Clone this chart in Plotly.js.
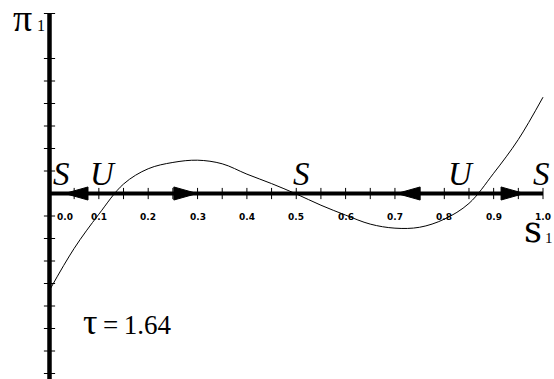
<!DOCTYPE html>
<html><head><meta charset="utf-8">
<script src="https://cdn.plot.ly/plotly-3.0.1.min.js"></script>
<style>html,body{margin:0;padding:0;background:#fff;} #chart{width:554px;height:379px;}</style>
</head><body><div id="chart"></div>
<script>
// ---- data ----
const s1Values  = [0.00, 0.05, 0.10, 0.15, 0.20, 0.25, 0.30, 0.35, 0.40, 0.45, 0.50,
                   0.55, 0.60, 0.65, 0.70, 0.75, 0.80, 0.85, 0.90, 0.95, 1.00];
const pi1Values = [-0.215, -0.122, -0.046, 0.021, 0.055, 0.069, 0.074, 0.066, 0.043, 0.022, -0.001,
                   -0.026, -0.048, -0.068, -0.077, -0.075, -0.057, -0.022, 0.045, 0.120, 0.214];
const xTickValues = [0.05,0.10,0.15,0.20,0.25,0.30,0.35,0.40,0.45,0.50,0.55,0.60,0.65,0.70,0.75,0.80,0.85,0.90,0.95,1.00];
const xTickLabelValues = [0.0,0.1,0.2,0.3,0.4,0.5,0.6,0.7,0.8,0.9,1.0];
const xTickLabels = ['0.0','0.1','0.2','0.3','0.4','0.5','0.6','0.7','0.8','0.9','1.0'];
const yTickValues = [0.40,0.30,0.25,0.20,0.15,0.10,0.05,-0.05,-0.10,-0.15,-0.20,-0.25,-0.30,-0.35,-0.40];
const yAxisTop = 0.40;
const fixedPoints = [0.0, 0.138, 0.502, 0.868, 1.0];
const stability   = ['S', 'U', 'S', 'U', 'S'];
const arrowTips       = [0.031, 0.299, 0.704, 0.962];
const arrowDirections = [-1, 1, -1, 1];
const yAxisSymbol = 'π', yAxisSub = '1';
const xAxisSymbol = 's', xAxisSub = '1';
const paramSymbol = 'τ', paramValue = '1.64';

// ---- styles / geometry ----
const W = 554, H = 379;
const xRange = [-0.1003, 1.0223];
const yRange = [-0.4122, 0.43];
const arrowLen = 0.047, arrowHalf = 0.0145;
const labelXShift = [12, -15, 4, -17, -2];
const serif = 'Liberation Serif, Times New Roman, serif';
const black = '#000';

const shapes = [];
shapes.push({type:'line', xref:'x', yref:'y', x0:0, x1:1, y0:0, y1:0, line:{color:black, width:4}});
shapes.push({type:'line', xref:'x', yref:'y', x0:0, x1:0, y0:yAxisTop, y1:yRange[0], line:{color:black, width:4.5}});
arrowTips.forEach((t, i) => {
  const b = t - arrowDirections[i] * arrowLen;
  shapes.push({type:'path', xref:'x', yref:'y',
    path:`M ${t},0 L ${b},${arrowHalf} L ${b},${-arrowHalf} Z`,
    fillcolor:black, line:{color:black, width:1}});
});

const annotations = [];
stability.forEach((lab, i) => {
  annotations.push({x: fixedPoints[i], y: 0, xref:'x', yref:'y', text: lab, showarrow:false,
    xanchor:'center', yanchor:'middle', xshift: labelXShift[i], yshift: 20,
    font:{family: serif, size: 33, color:black, style:'italic'}});
});
xTickLabelValues.forEach((v, i) => {
  annotations.push({x: v, y: 0, xref:'x', yref:'y', text: xTickLabels[i], showarrow:false,
    xanchor:'center', yanchor:'middle', xshift: i === 0 ? 15 : 0, yshift: -23,
    font:{family:'DejaVu Sans, sans-serif', size: 9, color:black, weight:'bold'}});
});
// pixel-placed text pieces: [text, left px, centre px from top, font family, size]
const textPieces = [
  [yAxisSymbol, 11, 17.5, serif, 38],
  [yAxisSub,    35, 25.6, serif, 16],
  [xAxisSymbol, 522, 230, 'DejaVu Serif, serif', 35],
  [xAxisSub,    543, 238, serif, 15],
  [paramSymbol, 81, 322, serif, 36],
  ['=\u2009' + paramValue, 101, 324.8, serif, 27]
];
textPieces.forEach(p => {
  annotations.push({xref:'paper', yref:'paper', x: p[1] / W, y: 1 - p[2] / H,
    xanchor:'left', yanchor:'middle', showarrow:false, text: p[0],
    font:{family: p[3], size: p[4], color:black}});
});

const traces = [
  {x: s1Values, y: pi1Values, type:'scatter', mode:'lines', line:{color:black, width:1, shape:'spline'}, hoverinfo:'skip'},
  {x: xTickValues, y: xTickValues.map(() => 0), type:'scatter', mode:'markers',
   marker:{symbol:'line-ns-open', size:8, color:black, line:{color:black, width:1}}, hoverinfo:'skip'},
  {x: yTickValues.map(() => 0), y: yTickValues, type:'scatter', mode:'markers',
   marker:{symbol:'line-ew-open', size:8, color:black, line:{color:black, width:1}}, hoverinfo:'skip'}
];

const layout = {
  width:W, height:H, margin:{l:0, r:0, t:0, b:0},
  paper_bgcolor:'#fff', plot_bgcolor:'#fff', showlegend:false,
  xaxis:{range:xRange, visible:false, fixedrange:true},
  yaxis:{range:yRange, visible:false, fixedrange:true},
  shapes, annotations
};
Plotly.newPlot('chart', traces, layout, {staticPlot:true, displayModeBar:false});
</script></body></html>
